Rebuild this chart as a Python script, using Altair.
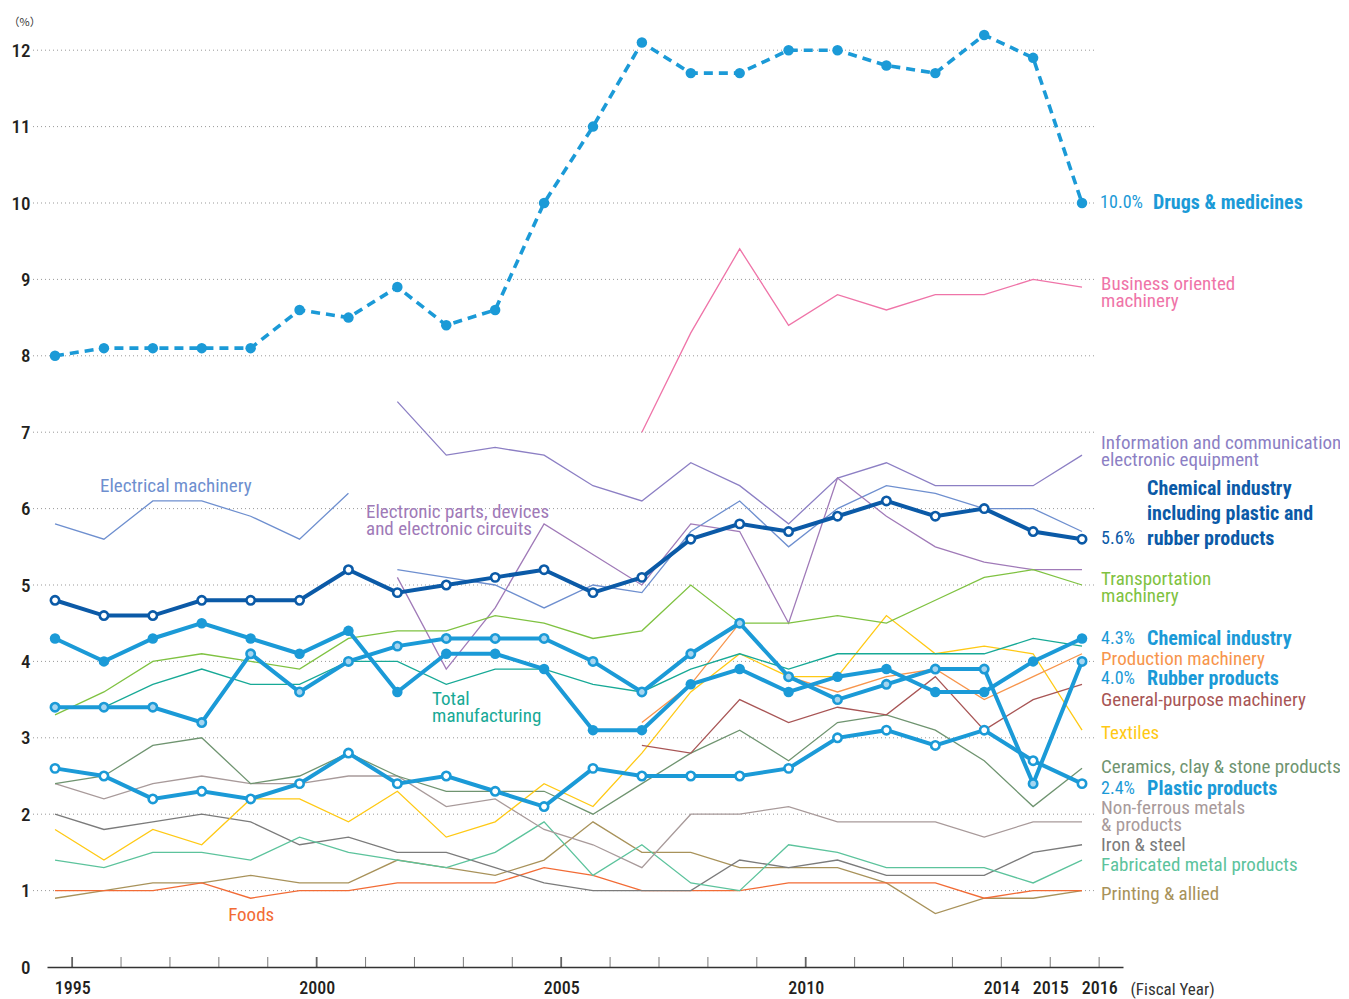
import altair as alt
import pandas as pd

# ---------------- data ----------------
years = list(range(1995, 2017))

drugs      = [8.0, 8.1, 8.1, 8.1, 8.1, 8.6, 8.5, 8.9, 8.4, 8.6, 10.0, 11.0, 12.1, 11.7, 11.7, 12.0, 12.0, 11.8, 11.7, 12.2, 11.9, 10.0]
chem_incl  = [4.8, 4.6, 4.6, 4.8, 4.8, 4.8, 5.2, 4.9, 5.0, 5.1, 5.2, 4.9, 5.1, 5.6, 5.8, 5.7, 5.9, 6.1, 5.9, 6.0, 5.7, 5.6]
chem       = [4.3, 4.0, 4.3, 4.5, 4.3, 4.1, 4.4, 3.6, 4.1, 4.1, 3.9, 3.1, 3.1, 3.7, 3.9, 3.6, 3.8, 3.9, 3.6, 3.6, 4.0, 4.3]
rubber     = [3.4, 3.4, 3.4, 3.2, 4.1, 3.6, 4.0, 4.2, 4.3, 4.3, 4.3, 4.0, 3.6, 4.1, 4.5, 3.8, 3.5, 3.7, 3.9, 3.9, 2.4, 4.0]
plastic    = [2.6, 2.5, 2.2, 2.3, 2.2, 2.4, 2.8, 2.4, 2.5, 2.3, 2.1, 2.6, 2.5, 2.5, 2.5, 2.6, 3.0, 3.1, 2.9, 3.1, 2.7, 2.4]

business_years = list(range(2007, 2017))
business       = [7.0, 8.3, 9.4, 8.4, 8.8, 8.6, 8.8, 8.8, 9.0, 8.9]
info_years     = list(range(2002, 2017))
info_comm      = [7.4, 6.7, 6.8, 6.7, 6.3, 6.1, 6.6, 6.3, 5.8, 6.4, 6.6, 6.3, 6.3, 6.3, 6.7]
elec_a_years   = list(range(1995, 2002))
electrical_a   = [5.8, 5.6, 6.1, 6.1, 5.9, 5.6, 6.2]
elec_b_years   = list(range(2002, 2017))
electrical_b   = [5.2, 5.1, 5.0, 4.7, 5.0, 4.9, 5.7, 6.1, 5.5, 6.0, 6.3, 6.2, 6.0, 6.0, 5.7]
parts_years    = list(range(2002, 2017))
electronic_parts = [5.1, 3.9, 4.7, 5.8, 5.4, 5.0, 5.8, 5.7, 4.5, 6.4, 5.9, 5.5, 5.3, 5.2, 5.2]
transport  = [3.3, 3.6, 4.0, 4.1, 4.0, 3.9, 4.3, 4.4, 4.4, 4.6, 4.5, 4.3, 4.4, 5.0, 4.5, 4.5, 4.6, 4.5, 4.8, 5.1, 5.2, 5.0]
total      = [3.4, 3.4, 3.7, 3.9, 3.7, 3.7, 4.0, 4.0, 3.7, 3.9, 3.9, 3.7, 3.6, 3.9, 4.1, 3.9, 4.1, 4.1, 4.1, 4.1, 4.3, 4.2]
mach_years = list(range(2007, 2017))
production = [3.2, 3.7, 4.5, 3.8, 3.6, 3.8, 3.9, 3.5, 3.8, 4.1]
general    = [2.9, 2.8, 3.5, 3.2, 3.4, 3.3, 3.8, 3.1, 3.5, 3.7]
textiles   = [1.8, 1.4, 1.8, 1.6, 2.2, 2.2, 1.9, 2.3, 1.7, 1.9, 2.4, 2.1, 2.8, 3.6, 4.1, 3.8, 3.8, 4.6, 4.1, 4.2, 4.1, 3.1]
ceramics   = [2.4, 2.5, 2.9, 3.0, 2.4, 2.5, 2.8, 2.5, 2.3, 2.3, 2.3, 2.0, 2.4, 2.8, 3.1, 2.7, 3.2, 3.3, 3.1, 2.7, 2.1, 2.6]
nonferrous = [2.4, 2.2, 2.4, 2.5, 2.4, 2.4, 2.5, 2.5, 2.1, 2.2, 1.8, 1.6, 1.3, 2.0, 2.0, 2.1, 1.9, 1.9, 1.9, 1.7, 1.9, 1.9]
iron_steel = [2.0, 1.8, 1.9, 2.0, 1.9, 1.6, 1.7, 1.5, 1.5, 1.3, 1.1, 1.0, 1.0, 1.0, 1.4, 1.3, 1.4, 1.2, 1.2, 1.2, 1.5, 1.6]
fabricated = [1.4, 1.3, 1.5, 1.5, 1.4, 1.7, 1.5, 1.4, 1.3, 1.5, 1.9, 1.2, 1.6, 1.1, 1.0, 1.6, 1.5, 1.3, 1.3, 1.3, 1.1, 1.4]
printing   = [0.9, 1.0, 1.1, 1.1, 1.2, 1.1, 1.1, 1.4, 1.3, 1.2, 1.4, 1.9, 1.5, 1.5, 1.3, 1.3, 1.3, 1.1, 0.7, 0.9, 0.9, 1.0]
foods      = [1.0, 1.0, 1.0, 1.1, 0.9, 1.0, 1.0, 1.1, 1.1, 1.1, 1.3, 1.2, 1.0, 1.0, 1.0, 1.1, 1.1, 1.1, 1.1, 0.9, 1.0, 1.0]

y_ticks = list(range(0, 13))
grid_values = list(range(1, 13))
shown_years = [1995, 2000, 2005, 2010, 2014, 2015, 2016]
major_years = [1995, 2000, 2005, 2010]

# ---------------- styling ----------------
FONT = "Roboto Condensed, Liberation Sans Narrow, DejaVu Sans Condensed, Roboto, sans-serif"
BLUE = "#1b9ad7"
DARK = "#0b5aa7"
LIGHT = "#a5d5f0"
TEXT = "#231f20"
TICK_SHIFT = 0.35
REG = 19      # regular annotation size
BOLD = 20     # bold annotation size
PCT = 18      # percentage size

thin_series = [
    ("Business oriented machinery", business_years, business, "#ef74a8"),
    ("Information and communication", info_years, info_comm, "#8c7fc4"),
    ("Electrical machinery a", elec_a_years, electrical_a, "#6e8fcf"),
    ("Electrical machinery b", elec_b_years, electrical_b, "#6e8fcf"),
    ("Electronic parts", parts_years, electronic_parts, "#a07ab8"),
    ("Printing & allied", years, printing, "#a8925a"),
    ("Foods", years, foods, "#f26b35"),
    ("Iron & steel", years, iron_steel, "#7b7b7b"),
    ("Fabricated metal products", years, fabricated, "#5cc39c"),
    ("Non-ferrous metals", years, nonferrous, "#a89a9a"),
    ("Ceramics", years, ceramics, "#6f9470"),
    ("Textiles", years, textiles, "#ffc914"),
    ("General-purpose machinery", mach_years, general, "#a85555"),
    ("Production machinery", mach_years, production, "#f7954c"),
    ("Transportation machinery", years, transport, "#7fc241"),
    ("Total manufacturing", years, total, "#17a996"),
]

xs = alt.Scale(domain=[1994.836, 2016.838], nice=False, zero=False)
ys = alt.Scale(domain=[0, 12.5], nice=False)

label_expr = ("indexof(%s, round(datum.value - %s)) >= 0 ? '' + round(datum.value - %s) : ''"
              % (str(shown_years), TICK_SHIFT, TICK_SHIFT))

x_axis = alt.Axis(values=[y + TICK_SHIFT for y in years], labelExpr=label_expr, ticks=False, grid=False,
                  domain=True, domainColor="#333333", domainWidth=1.6, labelOverlap=False, labelFlush=False,
                  labelFont=FONT, labelFontSize=18, labelFontWeight=500, labelColor=TEXT, labelPadding=12,
                  title="(Fiscal Year)", titleFont=FONT, titleFontSize=17, titleFontWeight="normal",
                  titleColor="#333333", titleX=1083, titleY=22, titleAlign="left", titleBaseline="middle")
y_axis = alt.Axis(values=y_ticks, format="d", grid=False, domain=False, ticks=False, labelFont=FONT,
                  labelFontSize=19, labelFontWeight=500, labelColor=TEXT, labelPadding=17, title="（%）",
                  titleAngle=0, titleFont="Noto Sans CJK JP, " + FONT, titleFontSize=11,
                  titleFontWeight="normal", titleColor="#333333", titleX=-39, titleY=10, titleAlign="left",
                  titleBaseline="middle")


def X(field="year"):
    return alt.X(field + ":Q", scale=xs, axis=x_axis)


def Y(field="value"):
    return alt.Y(field + ":Q", scale=ys, axis=y_axis)


def frame(xvals, vals, name):
    return pd.DataFrame({"year": xvals, "value": vals, "series": name})


layers = []

# dotted gridlines
grid_df = pd.DataFrame({"value": grid_values})
layers.append(alt.Chart(grid_df).mark_rule(color="#999999", strokeDash=[1, 3], strokeWidth=1).encode(
    x=alt.datum(1994.55), x2=alt.datum(2016.27), y=Y()))

# axis ticks (pointing up into the plot)
tick_df = pd.DataFrame({"year": [y + TICK_SHIFT for y in years if y not in major_years]})
major_df = pd.DataFrame({"year": [y + TICK_SHIFT for y in major_years]})
layers.append(alt.Chart(tick_df).mark_tick(orient="vertical", size=10, thickness=1, color="#444444", yOffset=-5)
              .encode(x=X(), y=alt.datum(0)))
layers.append(alt.Chart(major_df).mark_tick(orient="vertical", size=10, thickness=1.8, color="#222222", yOffset=-5)
              .encode(x=X(), y=alt.datum(0)))

# thin series
for name, xv, vals, col in thin_series:
    layers.append(alt.Chart(frame(xv, vals, name)).mark_line(color=col, strokeWidth=1.3).encode(x=X(), y=Y()))

# thick series with markers
thick = [
    ("Plastic products", plastic, BLUE, "white", BLUE, 70, None),
    ("Rubber products", rubber, BLUE, LIGHT, BLUE, 70, None),
    ("Chemical industry", chem, BLUE, BLUE, None, 110, None),
    ("Chemical incl", chem_incl, DARK, "white", DARK, 70, None),
    ("Drugs & medicines", drugs, BLUE, BLUE, None, 110, [9, 6]),
]
for name, vals, col, fill, stroke, size, dash in thick:
    df = frame(years, vals, name)
    if dash:
        ln = alt.Chart(df).mark_line(color=col, strokeWidth=3.6, strokeDash=dash)
    else:
        ln = alt.Chart(df).mark_line(color=col, strokeWidth=4)
    layers.append(ln.encode(x=X(), y=Y()))
    if stroke:
        pt = alt.Chart(df).mark_point(filled=True, fill=fill, stroke=stroke, strokeWidth=2.6, size=size, opacity=1)
    else:
        pt = alt.Chart(df).mark_point(filled=True, fill=fill, size=size, opacity=1, strokeWidth=0)
    layers.append(pt.encode(x=X(), y=Y()))

# annotations: (text, x in years, y in %, colour, size, weight)
notes = [
    ("Electrical machinery", 1995.92, 6.29, "#6e8fcf", REG, "normal"),
    ("Electronic parts, devices", 2001.36, 5.95, "#a07ab8", REG, "normal"),
    ("and electronic circuits", 2001.36, 5.73, "#a07ab8", REG, "normal"),
    ("Total", 2002.71, 3.51, "#17a996", REG, "normal"),
    ("manufacturing", 2002.71, 3.28, "#17a996", REG, "normal"),
    ("Foods", 1998.54, 0.68, "#f26b35", REG, "normal"),
    ("10.0%", 2016.37, 10.0, BLUE, PCT, "normal"),
    ("Drugs & medicines", 2017.45, 10.0, BLUE, BOLD, "bold"),
    ("Business oriented", 2016.39, 8.94, "#ef74a8", REG, "normal"),
    ("machinery", 2016.39, 8.72, "#ef74a8", REG, "normal"),
    ("Information and communication", 2016.39, 6.86, "#8c7fc4", REG, "normal"),
    ("electronic equipment", 2016.39, 6.64, "#8c7fc4", REG, "normal"),
    ("Chemical industry", 2017.33, 6.26, DARK, BOLD, "bold"),
    ("including plastic and", 2017.33, 5.93, DARK, BOLD, "bold"),
    ("rubber products", 2017.33, 5.60, DARK, BOLD, "bold"),
    ("5.6%", 2016.39, 5.60, DARK, PCT, "normal"),
    ("Transportation", 2016.39, 5.08, "#7fc241", REG, "normal"),
    ("machinery", 2016.39, 4.85, "#7fc241", REG, "normal"),
    ("4.3%", 2016.39, 4.29, BLUE, PCT, "normal"),
    ("Chemical industry", 2017.33, 4.29, BLUE, BOLD, "bold"),
    ("Production machinery", 2016.39, 4.03, "#f7954c", REG, "normal"),
    ("4.0%", 2016.39, 3.77, BLUE, PCT, "normal"),
    ("Rubber products", 2017.33, 3.77, BLUE, BOLD, "bold"),
    ("General-purpose machinery", 2016.39, 3.49, "#a85555", REG, "normal"),
    ("Textiles", 2016.39, 3.06, "#ffc914", REG, "normal"),
    ("Ceramics, clay & stone products", 2016.39, 2.62, "#6f9470", REG, "normal"),
    ("2.4%", 2016.39, 2.33, BLUE, PCT, "normal"),
    ("Plastic products", 2017.33, 2.33, BLUE, BOLD, "bold"),
    ("Non-ferrous metals", 2016.39, 2.08, "#a89a9a", REG, "normal"),
    ("& products", 2016.39, 1.86, "#a89a9a", REG, "normal"),
    ("Iron & steel", 2016.39, 1.60, "#7b7b7b", REG, "normal"),
    ("Fabricated metal products", 2016.39, 1.33, "#5cc39c", REG, "normal"),
    ("Printing & allied", 2016.39, 0.955, "#a8925a", REG, "normal"),
]
for size in sorted(set(n[4] for n in notes)):
    for weight in ["normal", "bold"]:
        sub = [n for n in notes if n[4] == size and n[5] == weight]
        if not sub:
            continue
        df = pd.DataFrame({"text": [n[0] for n in sub], "year": [n[1] for n in sub],
                           "value": [n[2] for n in sub], "color": [n[3] for n in sub]})
        layers.append(alt.Chart(df).mark_text(align="left", baseline="middle", font=FONT, fontSize=size,
                                              fontWeight=weight).encode(
            x=X(), y=Y(), text="text:N", color=alt.Color("color:N", scale=None)))

chart = alt.layer(*layers).properties(
    width=1076, height=955,
    autosize=alt.AutoSizeParams(type="none"),
    padding={"left": 39, "top": 4, "right": 217, "bottom": 32},
    background="white",
).configure_view(stroke=None)

chart.save("out.html", embed_options={"renderer": "svg", "actions": False})
